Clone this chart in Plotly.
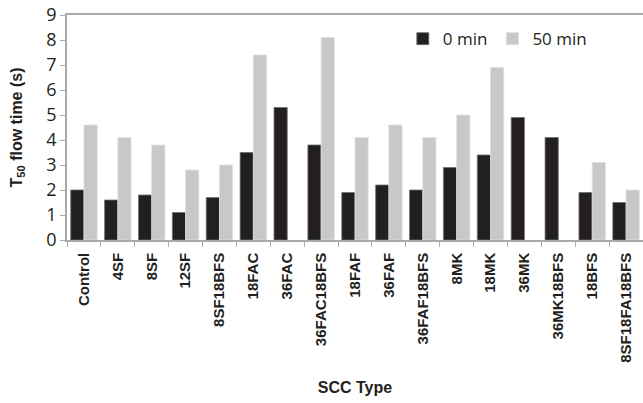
import plotly.graph_objects as go

categories = ["Control", "4SF", "8SF", "12SF", "8SF18BFS", "18FAC", "36FAC", "36FAC18BFS",
              "18FAF", "36FAF", "36FAF18BFS", "8MK", "18MK", "36MK", "36MK18BFS", "18BFS",
              "8SF18FA18BFS"]
min0 = [2.0, 1.6, 1.8, 1.1, 1.7, 3.5, 5.3, 3.8, 1.9, 2.2, 2.0, 2.9, 3.4, 4.9, 4.1, 1.9, 1.5]
min50 = [4.6, 4.1, 3.8, 2.8, 3.0, 7.4, None, 8.1, 4.1, 4.6, 4.1, 5.0, 6.9, None, None, 3.1, 2.0]
y_ticks = [0, 1, 2, 3, 4, 5, 6, 7, 8, 9]

fig = go.Figure()
fig.add_trace(go.Bar(x=categories, y=min0, name="0 min",
                     marker=dict(color="#231f20", line=dict(color="#6d6e71", width=0.8))))
fig.add_trace(go.Bar(x=categories, y=min50, name="50 min",
                     marker=dict(color="#c7c8ca", line=dict(color="#e0e0e0", width=0.8))))

fig.update_layout(
    width=643, height=403,
    margin=dict(l=67, r=0, t=15, b=163),
    plot_bgcolor="white", paper_bgcolor="white",
    barmode="group", bargap=0.22, bargroupgap=0,
    showlegend=True,
    legend=dict(orientation="h", x=0.583, y=0.893, xanchor="left", yanchor="middle",
                font=dict(family="Open Sans", size=17, color="#231f20"),
                bgcolor="rgba(0,0,0,0)", itemwidth=30, tracegroupgap=0),
    xaxis=dict(type="category", tickangle=-90, tickson="boundaries", automargin="bottom",
               ticks="outside", ticklen=5, tickcolor="#a7a9ac", ticklabelstandoff=5,
               showline=True, linecolor="#a7a9ac", linewidth=1.5, mirror=True,
               tickfont=dict(family="Arial", size=15, color="#231f20", weight="bold"),
               title=dict(text="<b>SCC Type</b>", font=dict(family="Arial", size=16, color="#231f20"),
                          standoff=20),
               showgrid=False),
    yaxis=dict(range=[0, 9], tickvals=y_ticks, ticks="outside", ticklen=5, tickcolor="#a7a9ac",
               automargin="left", ticklabeloverflow="allow",
               showline=True, linecolor="#a7a9ac", linewidth=1.5, showgrid=False, zeroline=False,
               tickfont=dict(family="Open Sans", size=18, color="#231f20"),
               title=dict(text="<b>T<sub>50</sub> flow time (s)</b>",
                          font=dict(family="Arial", size=16, color="#231f20"), standoff=20)),
)

# remove the default page margin so the figure fills the window exactly
fig.write_html("out.html", config={"displayModeBar": False},
               post_script="document.body.style.margin='0';")
